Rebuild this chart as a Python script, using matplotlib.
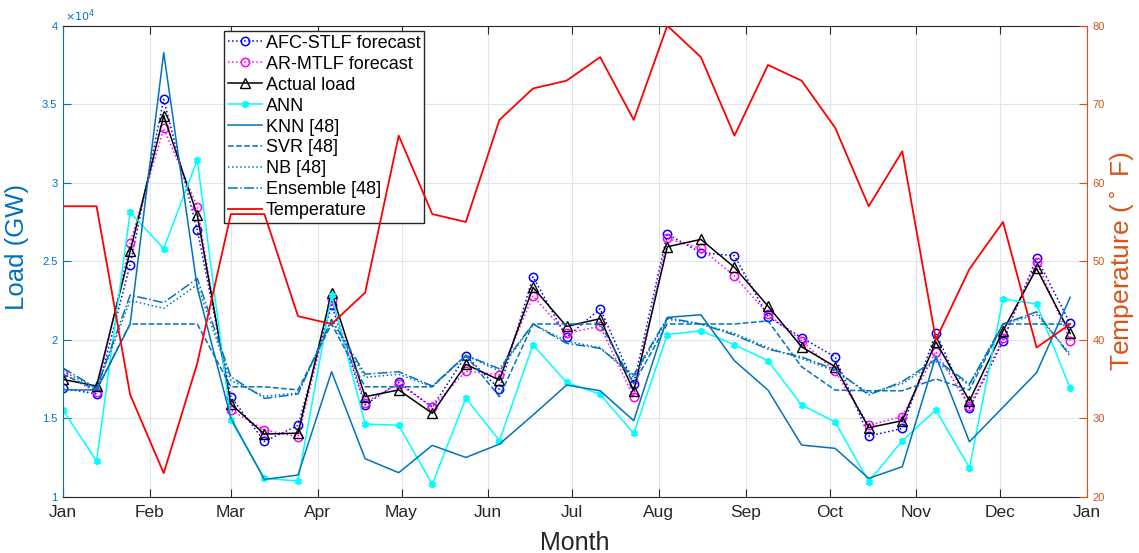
import matplotlib
matplotlib.use('Agg')
import matplotlib.pyplot as plt
import numpy as np
from matplotlib.ticker import FuncFormatter, MultipleLocator

plt.rcParams['font.family'] = ['Liberation Sans', 'DejaVu Sans']

# sample days (every 12 days through a leap year)
days = np.arange(0, 361, 12)

month_pos = [0, 31, 60, 91, 121, 152, 182, 213, 244, 274, 305, 335, 366]
month_labels = ['Jan', 'Feb', 'Mar', 'Apr', 'May', 'Jun', 'Jul', 'Aug',
                'Sep', 'Oct', 'Nov', 'Dec', 'Jan']

# load values (x 10^4)
afc = [1.690, 1.655, 2.478, 3.531, 2.699, 1.636, 1.352, 1.454, 2.220, 1.585,
       1.728, 1.571, 1.898, 1.684, 2.401, 2.015, 2.197, 1.720, 2.673, 2.554,
       2.535, 2.146, 2.013, 1.890, 1.386, 1.435, 2.045, 1.563, 1.990, 2.522, 2.104]
armtlf = [1.786, 1.665, 2.614, 3.346, 2.847, 1.552, 1.425, 1.382, 2.250, 1.600,
          1.720, 1.570, 1.800, 1.777, 2.278, 2.040, 2.087, 1.633, 2.645, 2.582,
          2.406, 2.163, 1.994, 1.798, 1.456, 1.510, 1.924, 1.575, 2.008, 2.497, 1.994]
actual = [1.747, 1.705, 2.563, 3.427, 2.794, 1.590, 1.399, 1.405, 2.300, 1.637,
          1.680, 1.531, 1.843, 1.743, 2.333, 2.085, 2.134, 1.675, 2.592, 2.639,
          2.461, 2.214, 1.955, 1.828, 1.440, 1.484, 1.987, 1.611, 2.057, 2.454, 2.040]
ann = [1.552, 1.227, 2.813, 2.580, 3.145, 1.488, 1.117, 1.100, 2.285, 1.463,
       1.455, 1.079, 1.628, 1.357, 1.968, 1.728, 1.652, 1.403, 2.032, 2.057,
       1.968, 1.866, 1.584, 1.476, 1.096, 1.357, 1.552, 1.185, 2.261, 2.227, 1.690]
knn = [1.680, 1.680, 2.100, 3.828, 2.330, 1.500, 1.110, 1.138, 1.796, 1.242,
       1.153, 1.327, 1.250, 1.335, 1.520, 1.711, 1.675, 1.484, 2.142, 2.159,
       1.866, 1.679, 1.329, 1.308, 1.117, 1.191, 1.896, 1.350, 1.570, 1.790, 2.270]
svr = [1.780, 1.680, 2.100, 2.100, 2.100, 1.700, 1.700, 1.680, 2.100, 1.700,
       1.700, 1.700, 1.900, 1.637, 2.100, 2.100, 2.100, 1.720, 2.100, 2.100,
       2.100, 2.120, 1.828, 1.679, 1.675, 1.675, 1.750, 1.680, 2.100, 2.100, 2.100]
nb = [1.800, 1.690, 2.250, 2.200, 2.350, 1.740, 1.640, 1.660, 2.120, 1.760,
      1.780, 1.700, 1.900, 1.800, 2.100, 1.990, 1.950, 1.760, 2.130, 2.100,
      2.040, 1.950, 1.880, 1.800, 1.660, 1.720, 1.860, 1.710, 2.100, 2.160, 1.910]
ensemble = [1.820, 1.690, 2.284, 2.236, 2.390, 1.764, 1.626, 1.654, 2.130, 1.781,
            1.796, 1.705, 1.900, 1.815, 2.100, 1.977, 1.945, 1.775, 2.140, 2.100,
            2.030, 1.940, 1.890, 1.810, 1.648, 1.733, 1.875, 1.718, 2.100, 2.178, 1.896]
temperature = [57, 57, 33, 23, 37, 56, 56, 43, 42, 46, 66, 56, 55, 68, 72, 73,
               76, 68, 80, 76, 66, 75, 73, 67, 57, 64, 40, 49, 55, 39, 42]

scale = 1e4
blue = '#0072BD'
orange = '#D95319'
dark = '#262626'
narrow = ['Liberation Sans Narrow', 'Liberation Sans', 'DejaVu Sans']

fig = plt.figure(figsize=(11.39, 5.53), dpi=100)
ax = fig.add_axes([0.0553, 0.1018, 0.8990, 0.8517])
ax2 = ax.twinx()

s = lambda v: np.array(v) * scale
h = []
h += ax.plot(days, s(afc), ':o', color='#0000FF', lw=1.1, ms=6, mfc='none',
             mew=1.1, label='AFC-STLF forecast')
h += ax.plot(days, s(armtlf), ':o', color='#FF00FF', lw=1.1, ms=6, mfc='none',
             mew=1.1, label='AR-MTLF forecast')
h += ax.plot(days, s(actual), '-^', color='black', lw=1.1, ms=6.5, mfc='none',
             mew=1.0, label='Actual load')
h += ax.plot(days, s(ann), '-', marker=(6, 2, 0), color='#00FFFF', lw=1.1,
             ms=5, mew=1.6, label='ANN')
h += ax.plot(days, s(knn), '-', color=blue, lw=1.1, label='KNN [48]')
h += ax.plot(days, s(svr), '--', color=blue, lw=1.1, label='SVR [48]')
h += ax.plot(days, s(nb), ':', color=blue, lw=1.1, label='NB [48]')
h += ax.plot(days, s(ensemble), '-.', color=blue, lw=1.1, label='Ensemble [48]')
h += ax2.plot(days, temperature, '-', color='#FF0000', lw=1.3, label='Temperature')

ax.set_xlim(0, 366)
ax.set_ylim(1e4, 4e4)
ax2.set_ylim(20, 80)

ax.set_xticks(month_pos)
ax.set_xticklabels(month_labels, fontfamily=narrow, fontsize=12.5, color=dark)
ax.yaxis.set_major_locator(MultipleLocator(5000))
ax.yaxis.set_major_formatter(FuncFormatter(lambda v, p: f'{v / scale:g}'))
ax2.yaxis.set_major_locator(MultipleLocator(10))

ax.grid(True, color='#dfe6ec', lw=0.8)
ax.set_axisbelow(True)

ax.tick_params(axis='x', direction='in', top=True, length=6, color=dark, pad=6)
ax.tick_params(axis='y', direction='in', length=6, colors=blue, labelsize=8, pad=4)
ax2.tick_params(axis='y', direction='in', length=6, colors=orange, labelsize=8, pad=4)

ax.spines['left'].set_color(blue)
ax.spines['bottom'].set_color(dark)
ax.spines['top'].set_color(dark)
ax.spines['right'].set_visible(False)
for side in ['left', 'top', 'bottom']:
    ax2.spines[side].set_visible(False)
ax2.spines['right'].set_color(orange)

ax.text(0.002, 1.004, r'$\times10^4$', transform=ax.transAxes, color=blue,
        fontsize=8, ha='left', va='bottom')

ax.set_xlabel('Month', fontsize=18, color=dark, family=narrow, labelpad=8)
ax.set_ylabel('Load (GW)', fontsize=18.5, color=blue)
ax.yaxis.set_label_coords(-0.033, 0.53)
ax2.set_ylabel('Temperature ($^\\circ$ F)', fontsize=19, color=orange, labelpad=2)

ax.legend(handles=h, loc='upper left', bbox_to_anchor=(224 / 1139, 1 - 31 / 553),
          bbox_transform=fig.transFigure, fontsize=13, fancybox=False,
          edgecolor=dark, framealpha=1, borderaxespad=0, handlelength=1.9,
          handletextpad=0.2, labelspacing=0.22, borderpad=0.2)

plt.savefig('out.png', dpi=100)
